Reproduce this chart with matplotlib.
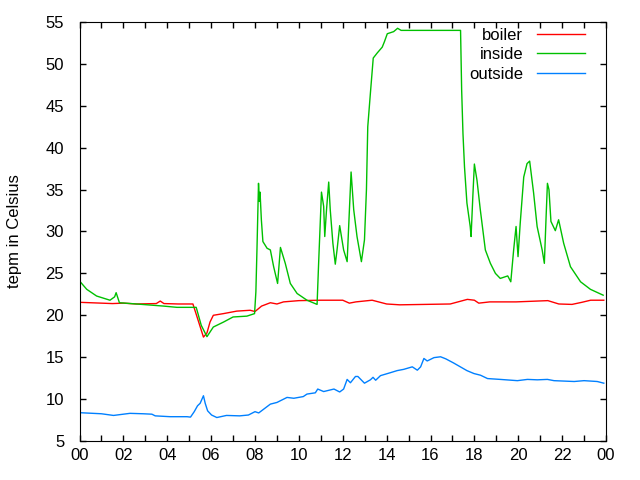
import matplotlib
matplotlib.use("Agg")
import matplotlib.pyplot as plt

# hours since midnight and temperatures (Celsius)
boiler_t = [0, 0.5, 1.0, 1.5, 2.0, 2.6, 3.5, 3.68, 3.85, 4.5, 5.17, 5.36, 5.65, 5.81,
            5.95, 6.1, 6.56, 7.17, 7.78, 8.0, 8.3, 8.7, 9.0, 9.3, 10.0, 11.0, 12.0,
            12.3, 12.6, 13.34, 14.0, 14.6, 16.9, 17.68, 18.0, 18.2, 18.7, 19.9,
            21.35, 21.85, 22.45, 22.9, 23.3, 23.9]
boiler_v = [21.55, 21.5, 21.45, 21.4, 21.45, 21.35, 21.4, 21.7, 21.4, 21.35, 21.35,
            19.8, 17.4, 17.9, 19.2, 20.0, 20.2, 20.5, 20.6, 20.45, 21.1, 21.5, 21.35,
            21.6, 21.75, 21.8, 21.8, 21.45, 21.6, 21.8, 21.35, 21.25, 21.35, 21.9,
            21.8, 21.45, 21.6, 21.6, 21.75, 21.35, 21.3, 21.55, 21.8, 21.8]

inside_t = [0.0, 0.33, 0.78, 1.39, 1.6, 1.67, 1.82, 2.6, 3.83, 4.44, 5.32, 5.55, 5.81,
            6.1, 6.57, 7.0, 7.63, 7.98, 8.04, 8.09, 8.16, 8.2, 8.23, 8.29, 8.36, 8.55,
            8.7, 8.85, 9.03, 9.16, 9.38, 9.61, 9.92, 10.37, 10.83, 10.9, 11.03, 11.13,
            11.18, 11.26, 11.36, 11.43, 11.55, 11.66, 11.74, 11.86, 12.04, 12.2, 12.27,
            12.38, 12.5, 12.65, 12.85, 12.99, 13.08, 13.14, 13.26, 13.39, 13.57, 13.8,
            13.9, 14.03, 14.32, 14.5, 14.66, 17.37, 17.42, 17.48, 17.55, 17.66, 17.81,
            17.85, 17.93, 18.0, 18.12, 18.27, 18.5, 18.73, 18.96, 19.18, 19.52, 19.66,
            19.79, 19.9, 19.99, 20.09, 20.25, 20.4, 20.52, 20.7, 20.86, 21.09, 21.19,
            21.27, 21.33, 21.4, 21.49, 21.69, 21.84, 22.07, 22.38, 22.84, 23.29, 23.87]
inside_v = [24.1, 23.1, 22.3, 21.8, 22.2, 22.7, 21.5, 21.35, 21.1, 20.95, 20.95, 18.8,
            17.45, 18.6, 19.2, 19.8, 19.9, 20.2, 22.8, 27.9, 35.75, 33.6, 34.7, 31.4,
            28.8, 28.0, 27.8, 25.8, 23.8, 28.1, 26.2, 23.8, 22.6, 21.8, 21.3, 26.2,
            34.7, 33.0, 29.4, 32.6, 35.9, 32.6, 28.6, 26.1, 27.8, 30.7, 27.8, 26.4,
            30.6, 37.1, 32.6, 29.4, 26.4, 29.0, 35.0, 42.5, 46.5, 50.7, 51.3, 52.0,
            52.65, 53.6, 53.85, 54.25, 54.0, 54.0, 46.9, 41.7, 37.7, 33.4, 30.6, 29.4,
            34.2, 38.05, 36.1, 32.6, 27.8, 26.2, 25.0, 24.4, 24.7, 24.0, 27.8, 30.6,
            27.0, 31.0, 36.5, 38.1, 38.4, 34.6, 30.6, 27.8, 26.2, 31.8, 35.75, 35.0,
            31.2, 30.1, 31.4, 28.6, 25.8, 24.0, 23.1, 22.4]

outside_t = [0, 1.0, 1.55, 2.3, 2.9, 3.3, 3.45, 4.13, 4.9, 5.06, 5.23, 5.38, 5.5, 5.65,
             5.73, 5.84, 6.02, 6.26, 6.7, 7.3, 7.7, 8.0, 8.17, 8.7, 9.0, 9.46, 9.77,
             10.2, 10.37, 10.75, 10.86, 11.13, 11.6, 11.86, 12.04, 12.2, 12.35, 12.58,
             12.69, 12.99, 13.26, 13.38, 13.5, 13.72, 14.17, 14.48, 14.78, 15.17, 15.4,
             15.55, 15.7, 15.85, 16.16, 16.46, 16.7, 17.06, 17.66, 17.98, 18.28, 18.6,
             19.18, 19.96, 20.42, 20.87, 21.33, 21.63, 22.55, 23.0, 23.6, 23.9]
outside_v = [8.38, 8.25, 8.05, 8.3, 8.25, 8.2, 8.0, 7.9, 7.9, 7.85, 8.5, 9.2, 9.5, 10.4,
             9.5, 8.6, 8.1, 7.8, 8.05, 8.0, 8.1, 8.5, 8.35, 9.4, 9.6, 10.2, 10.1, 10.3,
             10.6, 10.75, 11.2, 10.9, 11.2, 10.85, 11.2, 12.35, 11.95, 12.7, 12.7, 11.9,
             12.3, 12.6, 12.25, 12.8, 13.15, 13.4, 13.55, 13.85, 13.45, 13.85, 14.85,
             14.55, 14.95, 15.05, 14.8, 14.3, 13.4, 13.05, 12.85, 12.45, 12.35, 12.2,
             12.35, 12.3, 12.35, 12.2, 12.1, 12.2, 12.1, 11.9]

hour_ticks = list(range(25))
hour_labels = ["%02d" % (h % 24) if h % 2 == 0 else "" for h in hour_ticks]

plt.rcParams['font.family'] = ['Liberation Sans', 'DejaVu Sans']
plt.rcParams['font.size'] = 12

fig = plt.figure(figsize=(6.4, 4.8), dpi=100)
ax = fig.add_axes([79.5 / 640, 39 / 480, 526.5 / 640, 419 / 480])

ax.plot(boiler_t, boiler_v, color="#ff0000", lw=1.0, label="boiler")
ax.plot(inside_t, inside_v, color="#00c000", lw=1.0, label="inside")
ax.plot(outside_t, outside_v, color="#0080ff", lw=1.0, label="outside")

ax.set_xlim(0, 24)
ax.set_ylim(5, 55)
ax.set_xticks(hour_ticks)
ax.set_xticklabels(hour_labels)
ax.set_yticks(range(5, 56, 5))
ax.tick_params(direction="in", top=True, right=True, length=4.5, width=1)
ax.tick_params(axis="x", pad=5)
ax.tick_params(axis="y", pad=11)
ax.set_ylabel("tepm in Celsius", labelpad=17)

leg = ax.legend(loc="upper right", markerfirst=False, frameon=False,
                handlelength=2.9, handletextpad=0.8, labelspacing=0.26,
                borderaxespad=0, borderpad=0, bbox_to_anchor=(0.96, 0.986))

fig.savefig("out.png", dpi=100)
